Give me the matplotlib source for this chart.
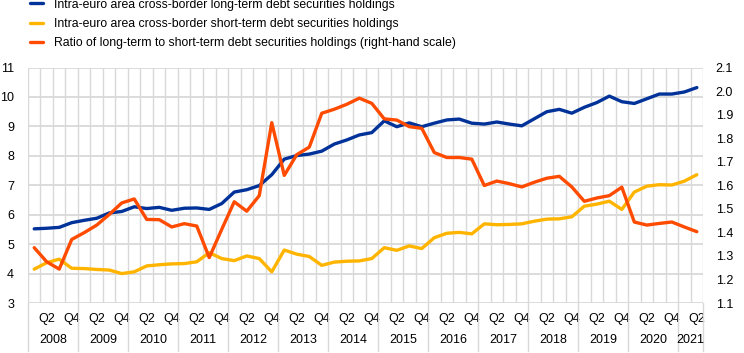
import numpy as np
import matplotlib
matplotlib.use("Agg")
import matplotlib.pyplot as plt
import matplotlib.transforms as mtransforms

plt.rcParams['font.family'] = ['Liberation Sans', 'DejaVu Sans']

# data, quarterly 2008 Q1 - 2021 Q2
years = [str(y) for y in range(2008, 2022)]

long_term = [5.52, 5.54, 5.57, 5.73, 5.81, 5.88, 6.06, 6.11, 6.27,
             6.21, 6.25, 6.15, 6.22, 6.23, 6.18, 6.38, 6.77, 6.85,
             6.99, 7.36, 7.89, 8.01, 8.06, 8.16, 8.40, 8.54, 8.71,
             8.79, 9.19, 8.99, 9.12, 8.99, 9.11, 9.22, 9.25, 9.11,
             9.08, 9.15, 9.08, 9.02, 9.26, 9.50, 9.58, 9.45, 9.65,
             9.81, 10.03, 9.84, 9.78, 9.94, 10.10, 10.10, 10.17, 10.32]

short_term = [4.15, 4.37, 4.49, 4.18, 4.17, 4.14, 4.12, 4.00, 4.06,
              4.26, 4.30, 4.33, 4.34, 4.40, 4.71, 4.51, 4.44, 4.60,
              4.51, 4.06, 4.80, 4.66, 4.58, 4.28, 4.39, 4.42, 4.43,
              4.51, 4.88, 4.79, 4.94, 4.85, 5.22, 5.37, 5.40, 5.35,
              5.69, 5.66, 5.67, 5.69, 5.78, 5.85, 5.86, 5.93, 6.29,
              6.36, 6.46, 6.18, 6.77, 6.97, 7.02, 7.01, 7.14, 7.36]

ratio = [1.335, 1.275, 1.244, 1.370, 1.399, 1.431, 1.476, 1.525, 1.542,
         1.455, 1.454, 1.423, 1.437, 1.427, 1.293, 1.413, 1.530, 1.490,
         1.556, 1.866, 1.642, 1.730, 1.762, 1.906, 1.923, 1.944, 1.970,
         1.948, 1.882, 1.877, 1.849, 1.842, 1.739, 1.718, 1.718, 1.711,
         1.599, 1.618, 1.607, 1.593, 1.613, 1.630, 1.638, 1.593, 1.532,
         1.546, 1.556, 1.592, 1.444, 1.431, 1.438, 1.444, 1.423, 1.403]

n = len(long_term)
x = np.arange(n)
quarter_labels = ['Q%d' % (i % 4 + 1) if i % 4 in (1, 3) else '' for i in range(n)]

blue = '#003299'
yellow = '#FFB400'
orange = '#FF4B00'
grid_c = '#D9D9D9'

fig = plt.figure(figsize=(7.44, 3.53), dpi=100)
ax = fig.add_axes([0.0376, 0.1416, 0.9074, 0.667])
ax2 = ax.twinx()

l1, = ax.plot(x, long_term, color=blue, lw=2.4, solid_capstyle='round',
              label='Intra-euro area cross-border long-term debt securities holdings')
l2, = ax.plot(x, short_term, color=yellow, lw=2.4, solid_capstyle='round',
              label='Intra-euro area cross-border short-term debt securities holdings')
l3, = ax2.plot(x, ratio, color=orange, lw=2.4, solid_capstyle='round',
               label='Ratio of long-term to short-term debt securities holdings (right-hand scale)')

ax.set_xlim(-0.5, n - 0.5)
ax.set_ylim(3, 11)
ax.set_yticks(range(3, 12))
ax2.set_ylim(1.1, 2.1)
ax2.set_yticks(np.round(np.arange(1.1, 2.11, 0.1), 1))
ax2.set_yticklabels(['%.1f' % v for v in np.arange(1.1, 2.11, 0.1)])

# grid
ax.set_xticks(np.arange(-0.5, n, 1), minor=True)
ax.grid(True, which='minor', axis='x', color=grid_c, lw=1.0)
ax.grid(True, which='major', axis='y', color=grid_c, lw=1.3)
ax.set_axisbelow(True)
ax.set_xticks(x)
ax.set_xticklabels(quarter_labels)
ax.tick_params(axis='x', which='both', length=0, pad=7, labelsize=9)
ax.tick_params(axis='y', length=0, pad=10, labelsize=9)
ax2.tick_params(axis='y', length=0, pad=9, labelsize=9)

for a in (ax, ax2):
    for s in a.spines.values():
        s.set_visible(False)

# year labels and separators
trans = mtransforms.blended_transform_factory(ax.transData, ax.transAxes)
for k, yr in enumerate(years):
    start = 4 * k
    end = min(4 * k + 3, n - 1)
    ax.text((start + end) / 2, -0.157, yr, transform=trans, ha='center', va='center', fontsize=9)
for b in range(0, n + 1, 4):
    ax.plot([b - 0.5, b - 0.5], [0, -0.205], transform=trans, color=grid_c, lw=1.0, clip_on=False)
ax.plot([n - 0.5, n - 0.5], [0, -0.205], transform=trans, color=grid_c, lw=1.0, clip_on=False)

fig.legend(handles=[l1, l2, l3], loc='upper left', bbox_to_anchor=(0.03, 1.025),
           frameon=False, fontsize=8.8, handlelength=1.1, handletextpad=0.9,
           labelspacing=0.6, borderaxespad=0.2)

fig.savefig('out.png', dpi=100)
